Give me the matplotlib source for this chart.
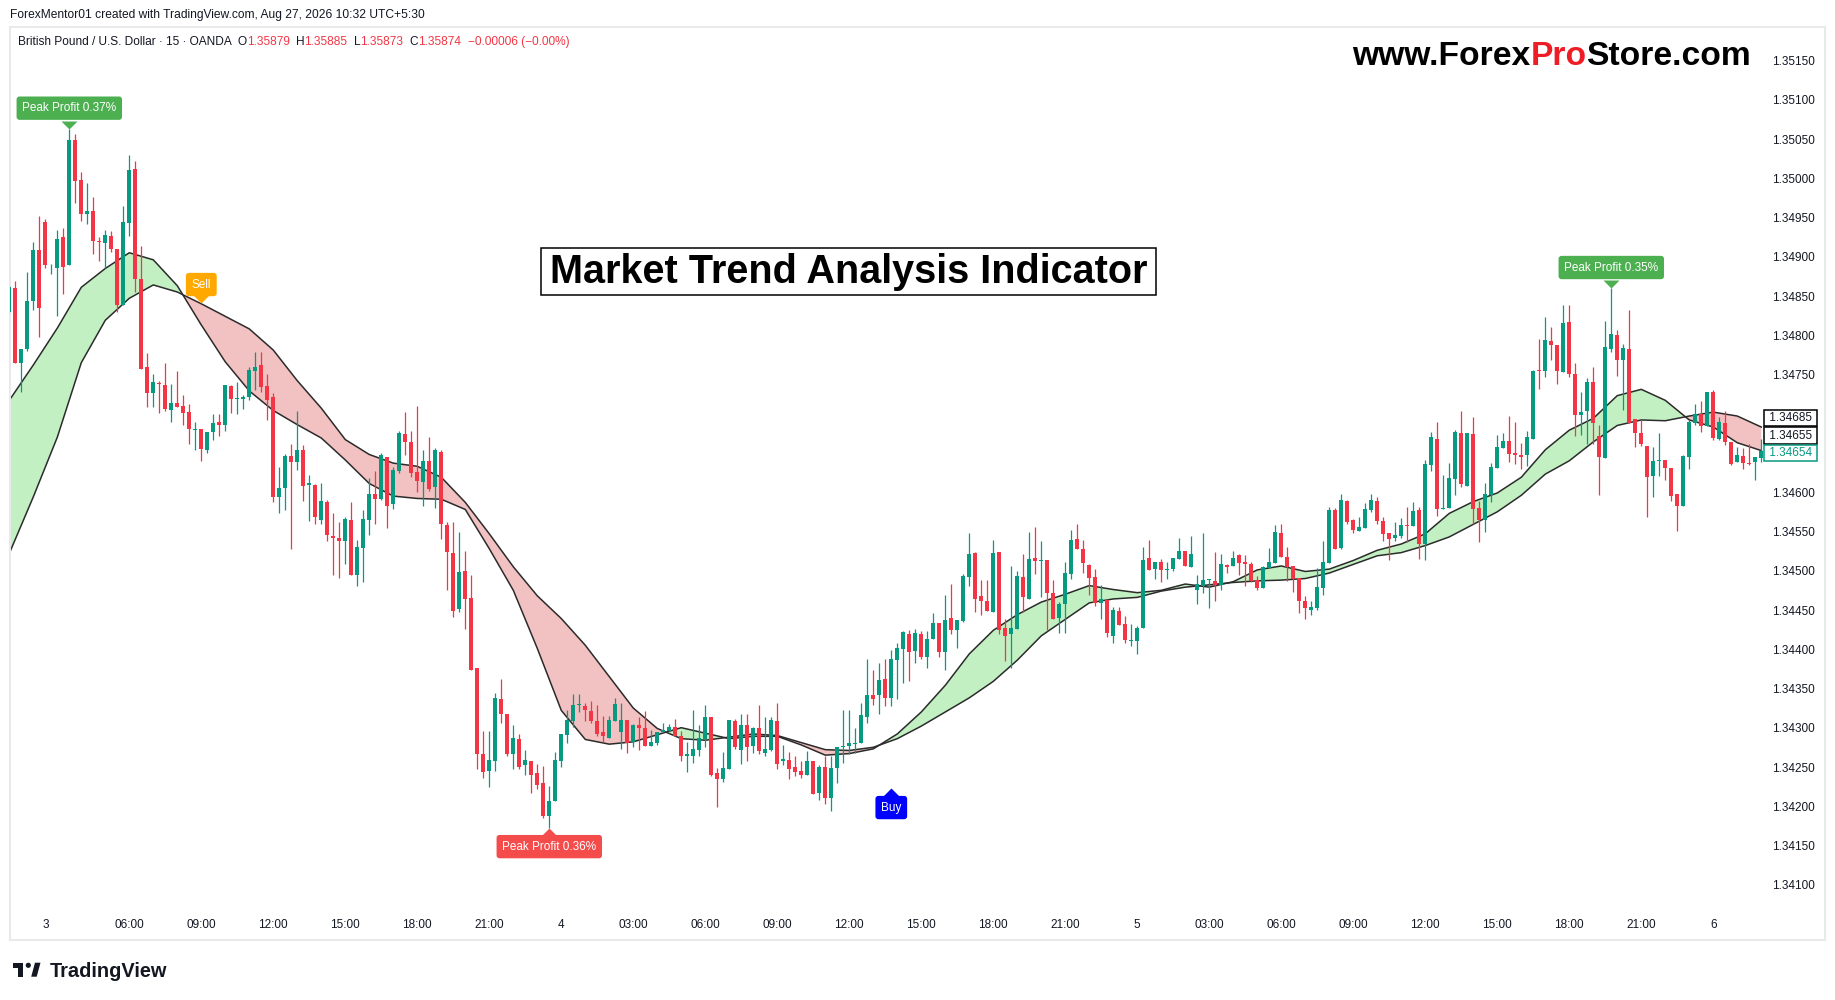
import matplotlib
matplotlib.use("Agg")
import matplotlib.pyplot as plt
from matplotlib import transforms
from matplotlib.patches import Rectangle, Circle, Polygon

plt.rcParams['font.family'] = ['Liberation Sans', 'DejaVu Sans']

# GBPUSD 15m bars, bar 0 = Aug 3 02:30 (first bar of the week)
first_bar = -6
opens = [
    1.34831, 1.34862, 1.34767, 1.34784, 1.34845, 1.34911, 1.34946, 1.34887, 1.34887, 1.34927,
    1.34892, 1.35051, 1.35000, 1.34957, 1.34960, 1.34922, 1.34920, 1.34928, 1.34912, 1.34841,
    1.34945, 1.35014, 1.34874, 1.34761, 1.34728, 1.34741, 1.34738, 1.34707, 1.34716, 1.34712,
    1.34704, 1.34681, 1.34682, 1.34656, 1.34679, 1.34691, 1.34687, 1.34737, 1.34721, 1.34721,
    1.34723, 1.34757, 1.34764, 1.34737, 1.34723, 1.34596, 1.34607, 1.34648, 1.34641, 1.34656,
    1.34611, 1.34611, 1.34567, 1.34590, 1.34546, 1.34544, 1.34540, 1.34567, 1.34497, 1.34531,
    1.34566, 1.34600, 1.34593, 1.34647, 1.34587, 1.34629, 1.34676, 1.34666, 1.34628, 1.34615,
    1.34642, 1.34609, 1.34653, 1.34560, 1.34525, 1.34453, 1.34502, 1.34467, 1.34378, 1.34268,
    1.34247, 1.34260, 1.34339, 1.34320, 1.34269, 1.34288, 1.34254, 1.34260, 1.34244, 1.34232,
    1.34190, 1.34209, 1.34260, 1.34293, 1.34311, 1.34331, 1.34329, 1.34323, 1.34311, 1.34296,
    1.34289, 1.34311, 1.34297, 1.34312, 1.34284, 1.34305, 1.34302, 1.34279, 1.34283, 1.34296,
    1.34298, 1.34303, 1.34291, 1.34266, 1.34266, 1.34273, 1.34288, 1.34316, 1.34244, 1.34237,
    1.34249, 1.34311, 1.34274, 1.34305, 1.34279, 1.34302, 1.34270, 1.34274, 1.34311, 1.34259,
    1.34261, 1.34252, 1.34247, 1.34242, 1.34260, 1.34219, 1.34252, 1.34213, 1.34251, 1.34277,
    1.34279, 1.34281, 1.34282, 1.34316, 1.34344, 1.34343, 1.34364, 1.34340, 1.34388, 1.34402,
    1.34421, 1.34400, 1.34421, 1.34392, 1.34415, 1.34435, 1.34399, 1.34442, 1.34427, 1.34438,
    1.34494, 1.34525, 1.34470, 1.34463, 1.34450, 1.34526, 1.34429, 1.34421, 1.34428, 1.34494,
    1.34466, 1.34518, 1.34514, 1.34516, 1.34473, 1.34442, 1.34459, 1.34498, 1.34542, 1.34530,
    1.34509, 1.34494, 1.34461, 1.34465, 1.34419, 1.34451, 1.34434, 1.34413, 1.34412, 1.34429,
    1.34518, 1.34504, 1.34513, 1.34503, 1.34504, 1.34517, 1.34527, 1.34507, 1.34477, 1.34482,
    1.34490, 1.34489, 1.34484, 1.34509, 1.34508, 1.34522, 1.34513, 1.34511, 1.34490, 1.34480,
    1.34506, 1.34512, 1.34550, 1.34519, 1.34508, 1.34493, 1.34463, 1.34452, 1.34455, 1.34480,
    1.34512, 1.34579, 1.34531, 1.34591, 1.34566, 1.34553, 1.34557, 1.34579, 1.34591, 1.34565,
    1.34550, 1.34544, 1.34546, 1.34560, 1.34559, 1.34579, 1.34536, 1.34637, 1.34670, 1.34580,
    1.34582, 1.34619, 1.34677, 1.34610, 1.34676, 1.34582, 1.34567, 1.34599, 1.34633, 1.34658,
    1.34667, 1.34652, 1.34650, 1.34649, 1.34670, 1.34757, 1.34756, 1.34795, 1.34790, 1.34755,
    1.34819, 1.34752, 1.34700, 1.34705, 1.34742, 1.34673, 1.34645, 1.34785, 1.34802, 1.34771,
    1.34785, 1.34695, 1.34678, 1.34661, 1.34623, 1.34642, 1.34643, 1.34633, 1.34600, 1.34585,
    1.34647, 1.34690, 1.34701, 1.34686, 1.34729, 1.34670, 1.34690, 1.34666, 1.34640, 1.34648,
    1.34639, 1.34640, 1.34645,
]
highs = [
    1.34866, 1.34871, 1.34785, 1.34883, 1.34921, 1.34954, 1.34950, 1.34893, 1.34936, 1.34939,
    1.35065, 1.35058, 1.35010, 1.34996, 1.34978, 1.34927, 1.34936, 1.34935, 1.34912, 1.34967,
    1.35032, 1.35024, 1.34916, 1.34779, 1.34753, 1.34743, 1.34767, 1.34740, 1.34757, 1.34726,
    1.34714, 1.34691, 1.34682, 1.34679, 1.34702, 1.34702, 1.34739, 1.34738, 1.34742, 1.34726,
    1.34761, 1.34781, 1.34781, 1.34753, 1.34728, 1.34634, 1.34651, 1.34663, 1.34705, 1.34662,
    1.34624, 1.34612, 1.34614, 1.34592, 1.34576, 1.34564, 1.34570, 1.34590, 1.34541, 1.34579,
    1.34620, 1.34629, 1.34652, 1.34647, 1.34634, 1.34680, 1.34704, 1.34680, 1.34712, 1.34656,
    1.34672, 1.34658, 1.34656, 1.34564, 1.34564, 1.34551, 1.34527, 1.34497, 1.34378, 1.34298,
    1.34298, 1.34346, 1.34364, 1.34320, 1.34305, 1.34294, 1.34274, 1.34260, 1.34256, 1.34253,
    1.34228, 1.34271, 1.34294, 1.34325, 1.34345, 1.34345, 1.34333, 1.34336, 1.34331, 1.34317,
    1.34317, 1.34340, 1.34334, 1.34312, 1.34307, 1.34316, 1.34323, 1.34299, 1.34296, 1.34308,
    1.34307, 1.34313, 1.34298, 1.34284, 1.34324, 1.34305, 1.34331, 1.34316, 1.34251, 1.34271,
    1.34312, 1.34313, 1.34319, 1.34319, 1.34303, 1.34331, 1.34316, 1.34316, 1.34333, 1.34280,
    1.34271, 1.34266, 1.34260, 1.34272, 1.34260, 1.34254, 1.34266, 1.34266, 1.34277, 1.34324,
    1.34324, 1.34302, 1.34333, 1.34390, 1.34376, 1.34384, 1.34390, 1.34401, 1.34410, 1.34425,
    1.34426, 1.34428, 1.34425, 1.34425, 1.34448, 1.34435, 1.34471, 1.34485, 1.34439, 1.34498,
    1.34550, 1.34526, 1.34490, 1.34490, 1.34541, 1.34526, 1.34440, 1.34508, 1.34502, 1.34523,
    1.34551, 1.34558, 1.34540, 1.34516, 1.34490, 1.34462, 1.34513, 1.34554, 1.34561, 1.34541,
    1.34511, 1.34504, 1.34484, 1.34466, 1.34456, 1.34456, 1.34444, 1.34434, 1.34432, 1.34532,
    1.34541, 1.34513, 1.34517, 1.34513, 1.34518, 1.34544, 1.34527, 1.34546, 1.34496, 1.34550,
    1.34491, 1.34526, 1.34523, 1.34511, 1.34527, 1.34523, 1.34522, 1.34513, 1.34495, 1.34508,
    1.34531, 1.34560, 1.34561, 1.34532, 1.34508, 1.34493, 1.34470, 1.34463, 1.34505, 1.34540,
    1.34583, 1.34582, 1.34600, 1.34592, 1.34568, 1.34570, 1.34588, 1.34600, 1.34596, 1.34570,
    1.34550, 1.34564, 1.34569, 1.34583, 1.34590, 1.34583, 1.34643, 1.34679, 1.34691, 1.34624,
    1.34639, 1.34681, 1.34705, 1.34677, 1.34698, 1.34591, 1.34614, 1.34639, 1.34675, 1.34677,
    1.34699, 1.34691, 1.34665, 1.34680, 1.34758, 1.34797, 1.34825, 1.34812, 1.34790, 1.34841,
    1.34841, 1.34767, 1.34730, 1.34748, 1.34761, 1.34688, 1.34820, 1.34862, 1.34809, 1.34791,
    1.34834, 1.34695, 1.34694, 1.34661, 1.34659, 1.34678, 1.34643, 1.34633, 1.34600, 1.34649,
    1.34694, 1.34714, 1.34718, 1.34730, 1.34732, 1.34698, 1.34705, 1.34666, 1.34659, 1.34658,
    1.34664, 1.34647, 1.34670,
]
lows = [
    1.34830, 1.34767, 1.34729, 1.34782, 1.34834, 1.34800, 1.34888, 1.34880, 1.34827, 1.34855,
    1.34892, 1.34970, 1.34947, 1.34943, 1.34906, 1.34897, 1.34887, 1.34908, 1.34831, 1.34840,
    1.34928, 1.34857, 1.34759, 1.34711, 1.34710, 1.34703, 1.34706, 1.34691, 1.34711, 1.34687,
    1.34663, 1.34656, 1.34642, 1.34652, 1.34668, 1.34674, 1.34680, 1.34703, 1.34701, 1.34708,
    1.34720, 1.34732, 1.34729, 1.34694, 1.34589, 1.34576, 1.34579, 1.34530, 1.34630, 1.34591,
    1.34565, 1.34562, 1.34562, 1.34540, 1.34496, 1.34493, 1.34510, 1.34497, 1.34482, 1.34488,
    1.34548, 1.34561, 1.34592, 1.34556, 1.34580, 1.34626, 1.34649, 1.34621, 1.34602, 1.34584,
    1.34603, 1.34582, 1.34542, 1.34477, 1.34443, 1.34449, 1.34428, 1.34375, 1.34249, 1.34238,
    1.34226, 1.34247, 1.34308, 1.34266, 1.34250, 1.34250, 1.34242, 1.34219, 1.34224, 1.34187,
    1.34174, 1.34209, 1.34252, 1.34282, 1.34303, 1.34322, 1.34310, 1.34308, 1.34292, 1.34284,
    1.34289, 1.34310, 1.34275, 1.34270, 1.34278, 1.34274, 1.34279, 1.34279, 1.34280, 1.34296,
    1.34298, 1.34291, 1.34260, 1.34246, 1.34257, 1.34266, 1.34278, 1.34241, 1.34201, 1.34233,
    1.34249, 1.34275, 1.34256, 1.34260, 1.34270, 1.34269, 1.34266, 1.34272, 1.34250, 1.34255,
    1.34237, 1.34241, 1.34238, 1.34242, 1.34218, 1.34210, 1.34205, 1.34196, 1.34232, 1.34257,
    1.34269, 1.34270, 1.34282, 1.34308, 1.34331, 1.34320, 1.34330, 1.34329, 1.34338, 1.34359,
    1.34361, 1.34385, 1.34389, 1.34378, 1.34415, 1.34392, 1.34376, 1.34421, 1.34404, 1.34436,
    1.34482, 1.34449, 1.34446, 1.34451, 1.34450, 1.34421, 1.34387, 1.34378, 1.34428, 1.34450,
    1.34466, 1.34498, 1.34469, 1.34426, 1.34441, 1.34422, 1.34422, 1.34491, 1.34529, 1.34499,
    1.34471, 1.34457, 1.34440, 1.34418, 1.34410, 1.34433, 1.34410, 1.34406, 1.34396, 1.34429,
    1.34503, 1.34492, 1.34488, 1.34491, 1.34502, 1.34517, 1.34508, 1.34507, 1.34460, 1.34474,
    1.34455, 1.34463, 1.34478, 1.34499, 1.34508, 1.34497, 1.34483, 1.34488, 1.34478, 1.34480,
    1.34506, 1.34512, 1.34519, 1.34489, 1.34475, 1.34448, 1.34440, 1.34446, 1.34452, 1.34471,
    1.34512, 1.34530, 1.34530, 1.34562, 1.34550, 1.34552, 1.34557, 1.34577, 1.34562, 1.34540,
    1.34516, 1.34540, 1.34543, 1.34539, 1.34559, 1.34517, 1.34516, 1.34629, 1.34572, 1.34580,
    1.34582, 1.34598, 1.34609, 1.34610, 1.34562, 1.34538, 1.34551, 1.34589, 1.34633, 1.34658,
    1.34640, 1.34638, 1.34631, 1.34635, 1.34670, 1.34733, 1.34749, 1.34771, 1.34740, 1.34755,
    1.34749, 1.34673, 1.34675, 1.34664, 1.34664, 1.34598, 1.34645, 1.34780, 1.34750, 1.34707,
    1.34690, 1.34660, 1.34661, 1.34570, 1.34596, 1.34622, 1.34618, 1.34591, 1.34552, 1.34584,
    1.34631, 1.34687, 1.34679, 1.34686, 1.34669, 1.34668, 1.34662, 1.34636, 1.34640, 1.34631,
    1.34637, 1.34618, 1.34641,
]
closes = [
    1.34864, 1.34767, 1.34785, 1.34846, 1.34911, 1.34836, 1.34891, 1.34888, 1.34925, 1.34889,
    1.35051, 1.34998, 1.34956, 1.34960, 1.34922, 1.34921, 1.34930, 1.34912, 1.34841, 1.34946,
    1.35012, 1.34873, 1.34759, 1.34728, 1.34742, 1.34740, 1.34708, 1.34716, 1.34711, 1.34703,
    1.34682, 1.34682, 1.34657, 1.34679, 1.34690, 1.34687, 1.34739, 1.34721, 1.34722, 1.34723,
    1.34758, 1.34761, 1.34736, 1.34719, 1.34596, 1.34607, 1.34648, 1.34640, 1.34656, 1.34610,
    1.34614, 1.34570, 1.34591, 1.34547, 1.34543, 1.34540, 1.34568, 1.34497, 1.34532, 1.34568,
    1.34600, 1.34593, 1.34649, 1.34585, 1.34630, 1.34677, 1.34666, 1.34627, 1.34616, 1.34642,
    1.34606, 1.34656, 1.34561, 1.34526, 1.34451, 1.34500, 1.34466, 1.34376, 1.34269, 1.34246,
    1.34261, 1.34340, 1.34319, 1.34269, 1.34289, 1.34252, 1.34261, 1.34242, 1.34229, 1.34190,
    1.34209, 1.34261, 1.34294, 1.34312, 1.34331, 1.34332, 1.34324, 1.34311, 1.34294, 1.34291,
    1.34312, 1.34332, 1.34312, 1.34283, 1.34305, 1.34302, 1.34279, 1.34284, 1.34296, 1.34299,
    1.34303, 1.34291, 1.34266, 1.34269, 1.34275, 1.34289, 1.34316, 1.34242, 1.34236, 1.34251,
    1.34312, 1.34277, 1.34305, 1.34278, 1.34302, 1.34272, 1.34275, 1.34312, 1.34256, 1.34262,
    1.34250, 1.34246, 1.34242, 1.34260, 1.34218, 1.34252, 1.34213, 1.34251, 1.34277, 1.34279,
    1.34283, 1.34282, 1.34318, 1.34344, 1.34339, 1.34363, 1.34340, 1.34390, 1.34404, 1.34424,
    1.34399, 1.34423, 1.34392, 1.34415, 1.34435, 1.34399, 1.34439, 1.34427, 1.34439, 1.34495,
    1.34523, 1.34466, 1.34463, 1.34451, 1.34525, 1.34427, 1.34419, 1.34429, 1.34495, 1.34468,
    1.34517, 1.34514, 1.34516, 1.34473, 1.34441, 1.34460, 1.34499, 1.34541, 1.34529, 1.34512,
    1.34493, 1.34461, 1.34466, 1.34422, 1.34452, 1.34433, 1.34414, 1.34414, 1.34429, 1.34516,
    1.34503, 1.34513, 1.34503, 1.34504, 1.34518, 1.34527, 1.34508, 1.34523, 1.34485, 1.34490,
    1.34491, 1.34484, 1.34511, 1.34507, 1.34518, 1.34512, 1.34511, 1.34489, 1.34480, 1.34507,
    1.34513, 1.34551, 1.34519, 1.34507, 1.34491, 1.34463, 1.34454, 1.34456, 1.34481, 1.34513,
    1.34579, 1.34530, 1.34592, 1.34564, 1.34554, 1.34558, 1.34581, 1.34592, 1.34565, 1.34549,
    1.34542, 1.34548, 1.34560, 1.34559, 1.34578, 1.34536, 1.34638, 1.34672, 1.34580, 1.34582,
    1.34620, 1.34679, 1.34612, 1.34677, 1.34581, 1.34567, 1.34600, 1.34634, 1.34660, 1.34667,
    1.34651, 1.34649, 1.34647, 1.34672, 1.34757, 1.34756, 1.34796, 1.34789, 1.34756, 1.34818,
    1.34752, 1.34700, 1.34704, 1.34742, 1.34690, 1.34647, 1.34787, 1.34803, 1.34771, 1.34786,
    1.34690, 1.34678, 1.34663, 1.34621, 1.34642, 1.34643, 1.34633, 1.34597, 1.34585, 1.34648,
    1.34691, 1.34701, 1.34686, 1.34729, 1.34671, 1.34691, 1.34666, 1.34638, 1.34649, 1.34639,
    1.34638, 1.34647, 1.34654,
]

# trend cloud, sampled every 4 bars starting at bar -6
cloud_start, cloud_step = -6, 4
fast_line = [
    1.34719, 1.34764, 1.34811, 1.34863, 1.34887, 1.34907, 1.34898, 1.34865, 1.34815, 1.34768,
    1.34731, 1.34706, 1.34688, 1.34671, 1.34643, 1.34613, 1.34597, 1.34594, 1.34593, 1.34580,
    1.34530, 1.34477, 1.34403, 1.34324, 1.34287, 1.34281, 1.34284, 1.34293, 1.34302, 1.34295,
    1.34288, 1.34291, 1.34291, 1.34280, 1.34267, 1.34269, 1.34275, 1.34294, 1.34322, 1.34356,
    1.34396, 1.34426, 1.34446, 1.34462, 1.34472, 1.34483, 1.34478, 1.34474, 1.34477, 1.34485,
    1.34481, 1.34488, 1.34503, 1.34508, 1.34501, 1.34504, 1.34515, 1.34528, 1.34536, 1.34549,
    1.34575, 1.34590, 1.34601, 1.34621, 1.34656, 1.34681, 1.34696, 1.34725, 1.34733, 1.34719,
    1.34694, 1.34685, 1.34665, 1.34655,
]
slow_line = [
    1.34524, 1.34596, 1.34672, 1.34767, 1.34821, 1.34849, 1.34866, 1.34857, 1.34842, 1.34826,
    1.34810, 1.34783, 1.34744, 1.34709, 1.34669, 1.34650, 1.34639, 1.34635, 1.34621, 1.34589,
    1.34549, 1.34507, 1.34470, 1.34441, 1.34407, 1.34367, 1.34327, 1.34301, 1.34288, 1.34286,
    1.34290, 1.34294, 1.34292, 1.34283, 1.34274, 1.34273, 1.34277, 1.34288, 1.34304, 1.34322,
    1.34340, 1.34361, 1.34388, 1.34419, 1.34440, 1.34461, 1.34466, 1.34468, 1.34476, 1.34481,
    1.34484, 1.34487, 1.34489, 1.34490, 1.34492, 1.34499, 1.34510, 1.34521, 1.34525, 1.34534,
    1.34545, 1.34561, 1.34577, 1.34598, 1.34625, 1.34642, 1.34666, 1.34687, 1.34694, 1.34693,
    1.34699, 1.34704, 1.34699, 1.34685,
]

# signals
peak_labels = [(4, "Peak Profit 0.37%", "high"), (84, "Peak Profit 0.36%", "low"),
               (261, "Peak Profit 0.35%", "high")]
sell_signal = (26, 1.34843)
buy_signal = (141, 1.34225)

time_bars = [0, 14, 26, 38, 50, 62, 74, 86, 98, 110, 122, 134, 146, 158, 170,
             182, 194, 206, 218, 230, 242, 254, 266, 278]
time_labels = ["3", "06:00", "09:00", "12:00", "15:00", "18:00", "21:00",
               "4", "03:00", "06:00", "09:00", "12:00", "15:00", "18:00", "21:00",
               "5", "03:00", "06:00", "09:00", "12:00", "15:00", "18:00", "21:00", "6"]
# 1.34650 and 1.34700 sit under the last-value boxes, so they are not shown
price_labels = ["1.34100", "1.34150", "1.34200", "1.34250", "1.34300", "1.34350",
                "1.34400", "1.34450", "1.34500", "1.34550", "1.34600",
                "1.34750", "1.34800", "1.34850", "1.34900", "1.34950",
                "1.35000", "1.35050", "1.35100", "1.35150"]

UP = "#089981"
DOWN = "#f23645"
TEXT = "#131722"
W, H = 1835, 1000

fig = plt.figure(figsize=(W / 100, H / 100), dpi=100)
# pixel coords, origin top-left
px = transforms.Affine2D().scale(1 / W, -1 / H).translate(0, 1) + fig.transFigure

ax = fig.add_axes([9.5 / W, 60 / H, 1815.5 / W, 913 / H])
ax.set_xlim(-5.967, 296.62)
ax.set_ylim(1.3403153, 1.3519459)
ax.set_xticks([])
ax.set_yticks([])
for s in ax.spines.values():
    s.set_color("#e9e9ec")
    s.set_linewidth(1.5)

# cloud
n_cloud = len(fast_line)
cx = [cloud_start + cloud_step * k for k in range(n_cloud)]
up_mask = [f >= s for f, s in zip(fast_line, slow_line)]
dn_mask = [f <= s for f, s in zip(fast_line, slow_line)]
ax.fill_between(cx, fast_line, slow_line, where=up_mask, interpolate=True,
                color="#c3f0c2", lw=0, zorder=1)
ax.fill_between(cx, fast_line, slow_line, where=dn_mask, interpolate=True,
                color="#f2c1c1", lw=0, zorder=1)
ax.plot(cx, fast_line, color="#2b2b2b", lw=1.1, zorder=2, solid_joinstyle="round")
ax.plot(cx, slow_line, color="#2b2b2b", lw=1.1, zorder=2, solid_joinstyle="round")

# candles
bars = [first_bar + k for k in range(len(closes))]
cols = [UP if c >= o else DOWN for o, c in zip(opens, closes)]
ax.vlines(bars, lows, highs, colors=cols, lw=0.9, zorder=3)
bottoms = [min(o, c) for o, c in zip(opens, closes)]
heights = [max(abs(c - o), 0.000011) for o, c in zip(opens, closes)]
ax.bar(bars, heights, bottom=bottoms, width=0.72, color=cols, lw=0, zorder=4)

# flag labels with pointer
down_tip = [(-1, 1), (1, 1), (0, 0)]
up_tip = [(-1, -1), (1, -1), (0, 0)]


def flag(bar, price, text, color, below, dist):
    ax.plot([bar], [price], marker=up_tip if below else down_tip, ms=11.5,
            color=color, mec="none", zorder=6, clip_on=False)
    ax.annotate(text, xy=(bar, price), xytext=(0, -dist if below else dist),
                textcoords="offset points", ha="center", va="center",
                color="white", fontsize=8.5, zorder=7,
                bbox=dict(boxstyle="round,pad=0.48,rounding_size=0.25",
                          fc=color, ec="none"))


for bar, text, side in peak_labels:
    k = bar - first_bar
    if side == "high":
        flag(bar, highs[k], text, "#4caf50", False, 14.8)
    else:
        flag(bar, lows[k], text, "#f44b4b", True, 13.3)
flag(sell_signal[0], sell_signal[1], "Sell", "#ffa800", False, 13.3)
flag(buy_signal[0], buy_signal[1], "Buy", "#0000ff", True, 14.0)

# price scale
ytr = transforms.blended_transform_factory(ax.transAxes, ax.transData)
for lab in price_labels:
    ax.text(0.9708, float(lab), lab, transform=ytr, ha="left", va="center",
            fontsize=8.5, color=TEXT, zorder=5)

# last value boxes (stacked upward to avoid overlap)
last_boxes = [(slow_line[-1], 6.5, "black", TEXT),
              (fast_line[-1], 10.8, "black", TEXT),
              (closes[-1], -1.0, UP, UP)]
for val, dy, ec, tc in last_boxes:
    tr = transforms.offset_copy(ytr, fig=fig, y=dy, units="points")
    ax.text(0.9675, val, " %.5f " % val, transform=tr, ha="left", va="center",
            fontsize=8.5, color=tc, zorder=8,
            bbox=dict(boxstyle="square,pad=0.18", fc="white", ec=ec, lw=1.1))

# time scale
xtr = transforms.blended_transform_factory(ax.transData, ax.transAxes)
for b, lab in zip(time_bars, time_labels):
    ax.text(b, 0.0164, lab, transform=xtr, ha="center", va="center",
            fontsize=8.5, color=TEXT)

# header
fig.text(9.5, 15, "ForexMentor01 created with TradingView.com, Aug 27, 2026 10:32 UTC+5:30",
         transform=px, fontsize=8.65, color=TEXT, va="center")
legend_parts = [("British Pound / U.S. Dollar \u00b7 15 \u00b7 OANDA", TEXT, 0),
                ("O", TEXT, 4.5), ("1.35879", DOWN, 0),
                ("H", TEXT, 4.5), ("1.35885", DOWN, 0),
                ("L", TEXT, 4.5), ("1.35873", DOWN, 0),
                ("C", TEXT, 4.5), ("1.35874", DOWN, 0),
                ("\u22120.00006 (\u22120.00%)", DOWN, 4.5)]
prev = fig.text(17.5, 42, legend_parts[0][0], transform=px, fontsize=8.55,
                color=TEXT, va="center")
for txt, col, gap in legend_parts[1:]:
    prev = ax.annotate(txt, xy=(1, 0), xycoords=prev, xytext=(gap, 0),
                       textcoords="offset points", ha="left", va="bottom",
                       fontsize=8.55, color=col, annotation_clip=False)

# watermark site
site = fig.text(1352, 65, "www.Forex", transform=px, fontsize=24.2,
                fontweight="bold", color="black", va="baseline")
pro = ax.annotate("Pro", xy=(1, 0), xycoords=site, ha="left", va="bottom",
                  fontsize=24.2, fontweight="bold", color="#ee1c25",
                  annotation_clip=False)
ax.annotate("Store.com", xy=(1, 0), xycoords=pro, ha="left", va="bottom",
            fontsize=24.2, fontweight="bold", color="black", annotation_clip=False)

# title box
fig.add_artist(Rectangle((541, 248), 615, 47, transform=px, fc="white",
                         ec="black", lw=1.1, zorder=9))
fig.text(848.5, 272, "Market Trend Analysis Indicator", transform=px,
         fontsize=28.5, fontweight="bold", color="black",
         ha="center", va="center", zorder=10)

# TradingView logo
fig.add_artist(Rectangle((12.7, 962.7), 10.6, 4.8, transform=px, fc=TEXT, ec="none"))
fig.add_artist(Rectangle((18.3, 962.7), 5.0, 14.0, transform=px, fc=TEXT, ec="none"))
fig.add_artist(Circle((28.3, 965.3), 2.6, transform=px, fc=TEXT, ec="none"))
fig.add_artist(Polygon([(31.2, 976.7), (35.0, 962.7), (40.5, 962.7), (36.7, 976.7)],
                       closed=True, transform=px, fc=TEXT, ec="none"))
fig.text(49.5, 977, "TradingView", transform=px, fontsize=14.4,
         fontweight="bold", color=TEXT, va="baseline")

fig.savefig("out.png", dpi=100)
